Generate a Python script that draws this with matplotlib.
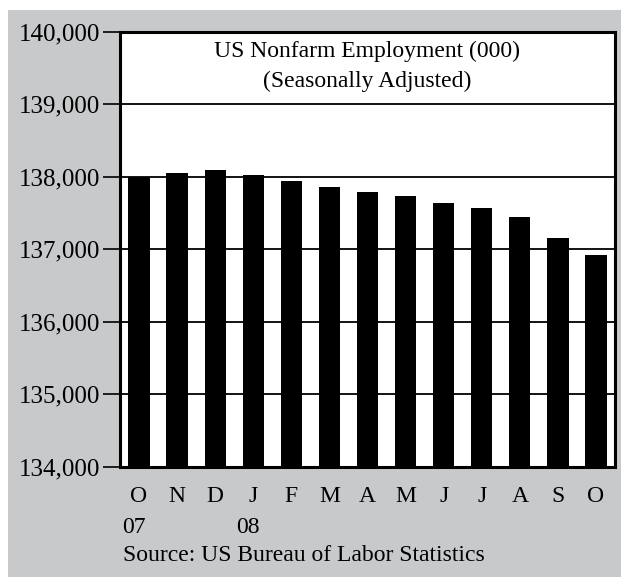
import matplotlib.pyplot as plt
from matplotlib.patches import Rectangle
from matplotlib.transforms import blended_transform_factory

plt.rcParams["font.family"] = ["Liberation Serif", "DejaVu Serif"]

# monthly nonfarm employment, thousands (Oct 2007 - Oct 2008)
months = ["O", "N", "D", "J", "F", "M", "A", "M", "J", "J", "A", "S", "O"]
employment = [138000, 138055, 138097, 138024, 137940, 137853, 137784,
              137738, 137641, 137572, 137448, 137159, 136920]
year_labels = [(0, "07"), (3, "08")]
y_ticks = [134000, 135000, 136000, 137000, 138000, 139000, 140000]

BG = "#c8c9cb"
W, H = 621, 578


def fy(py):
    # pixel row (from top) -> figure fraction
    return 1 - py / H


fig = plt.figure(figsize=(W / 100, H / 100), dpi=100, facecolor="white")
fig.patches.append(Rectangle((8 / W, fy(577)), 613 / W, 567 / H,
                             transform=fig.transFigure, facecolor=BG,
                             edgecolor="none", zorder=-10))

ax = fig.add_axes([120 / W, fy(466.7), 495 / W, 435 / H])
ax.set_facecolor("white")

x = list(range(len(months)))
ax.bar(x, employment, width=0.56, color="black", zorder=3)

ax.set_ylim(134000, 140000)
ax.set_xlim(-0.5, len(months) - 0.5)
ax.set_yticks(y_ticks)
ax.set_yticklabels([f"{v:,}" for v in y_ticks], fontsize=18)
ax.set_xticks(x)
ax.set_xticklabels(months, fontsize=17)
ax.tick_params(axis="y", length=12, width=1.2, pad=2, direction="out")
ax.tick_params(axis="x", length=0, pad=14)

for v in y_ticks[1:-1]:
    ax.axhline(v, color="black", linewidth=1.3, zorder=1)

for s in ax.spines.values():
    s.set_linewidth(2.2)
    s.set_color("black")

cx = (120 + 615) / 2 / W
fig.text(cx, fy(57.3), "US Nonfarm Employment (000)", ha="center",
         va="baseline", fontsize=17)
fig.text(cx, fy(87.3), "(Seasonally Adjusted)", ha="center",
         va="baseline", fontsize=17)

tr = blended_transform_factory(ax.transData, fig.transFigure)
for pos, yr in year_labels:
    ax.text(pos - 0.44, fy(532.7), yr, transform=tr, ha="left",
            va="baseline", fontsize=17)
fig.text(123 / W, fy(560.7), "Source: US Bureau of Labor Statistics",
         ha="left", va="baseline", fontsize=17)

fig.savefig("out.png", dpi=100, facecolor=fig.get_facecolor())
